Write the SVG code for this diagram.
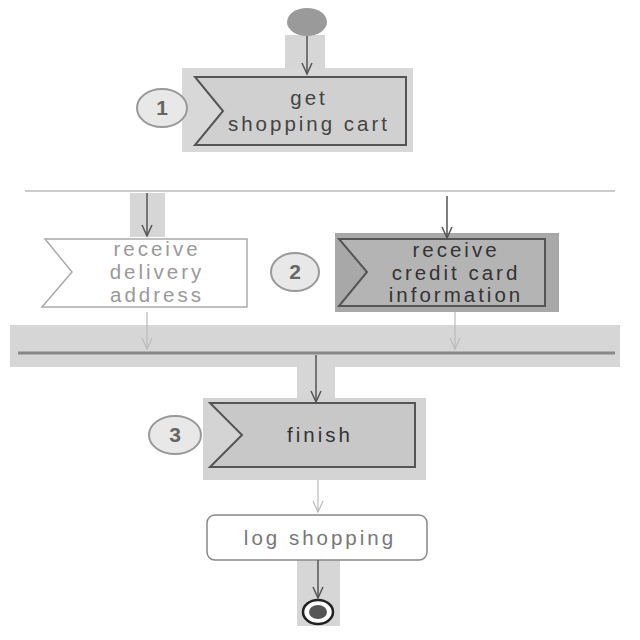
<svg xmlns="http://www.w3.org/2000/svg" width="640" height="640" viewBox="0 0 640 640">
<style>
.hl{fill:#d6d6d6}
.box{stroke:#555;stroke-width:2}
.num{fill:#e8e8e8;stroke:#999;stroke-width:2}
.numt{font-family:"Liberation Sans",Arial,sans-serif;font-size:21px;fill:#666;text-anchor:middle;font-weight:bold}
.t{font-family:"Liberation Sans",Arial,sans-serif;font-size:20.5px;text-anchor:middle;letter-spacing:3px}
.edge{stroke:#555;stroke-width:1.5;fill:none}
.faint{stroke:#bbb;stroke-width:1.2;fill:none}
</style>
<defs>
<marker id="ah" markerWidth="14" markerHeight="12" refX="12" refY="6" orient="auto" markerUnits="userSpaceOnUse">
<path d="M1,1 L12,6 L1,11" fill="none" stroke="#555" stroke-width="1.5"/>
</marker>
<marker id="ahf" markerWidth="14" markerHeight="12" refX="12" refY="6" orient="auto" markerUnits="userSpaceOnUse">
<path d="M1,1 L12,6 L1,11" fill="none" stroke="#bbb" stroke-width="1.2"/>
</marker>
</defs>
<rect width="640" height="640" fill="#fff"/>

<g id="highlights">
<rect class="hl" x="285" y="35" width="40" height="38"/>
<rect class="hl" x="130" y="193" width="35" height="44"/>
<rect class="hl" x="10" y="325" width="610" height="42" fill="#dcdcdc"/>
<rect class="hl" x="297" y="358" width="38" height="45"/>
<rect class="hl" x="297" y="560" width="43" height="66"/>
</g>

<g id="start">
<ellipse cx="307" cy="22" rx="20" ry="14" fill="#9a9a9a"/>
</g>

<g id="node1">
<rect x="182" y="68" width="231" height="84" fill="#d8d8d8"/>
<path class="box" d="M195,77 H406 V145 H195 L223,111 Z" fill="#d0d0d0"/>
<text class="t" x="309" y="105" fill="#444">get</text>
<text class="t" x="309" y="131" fill="#444">shopping cart</text>
<ellipse class="num" cx="162" cy="108" rx="25" ry="19"/>
<text class="numt" x="162" y="115">1</text>
</g>

<g id="fork">
<line x1="25" y1="191" x2="615" y2="191" stroke="#ccc" stroke-width="2"/>
</g>

<g id="node-delivery">
<path d="M45,239 H247 V307 H42 L72,272 Z" fill="#fff" stroke="#aaa" stroke-width="1.5"/>
<text class="t" x="157" y="256" fill="#999">receive</text>
<text class="t" x="157" y="279" fill="#999">delivery</text>
<text class="t" x="157" y="302" fill="#999">address</text>
</g>

<g id="node2">
<ellipse class="num" cx="295" cy="272" rx="24" ry="19"/>
<text class="numt" x="295" y="279">2</text>
<rect x="335" y="233" width="224" height="79" fill="#a8a8a8"/>
<path class="box" d="M339,239 H545 V306 H339 L367,272 Z" fill="#b4b4b4"/>
<text class="t" x="456" y="257" fill="#333">receive</text>
<text class="t" x="456" y="280" fill="#333">credit card</text>
<text class="t" x="456" y="302" fill="#333">information</text>
</g>

<g id="join">
<line x1="18" y1="353" x2="615" y2="353" stroke="#888" stroke-width="3"/>
</g>

<g id="node3">
<rect x="203" y="398" width="223" height="82" fill="#d4d4d4"/>
<path class="box" d="M210,403 H415 V467 H210 L242,435 Z" fill="#c8c8c8"/>
<text class="t" x="320" y="442" fill="#333">finish</text>
<ellipse class="num" cx="175" cy="435" rx="26" ry="19"/>
<text class="numt" x="175" y="442">3</text>
</g>

<g id="node-log">
<rect x="207" y="515" width="220" height="45" rx="8" fill="#fff" stroke="#888" stroke-width="1.5"/>
<text class="t" x="320" y="545" fill="#777">log shopping</text>
</g>

<g id="end">
<ellipse cx="318" cy="612" rx="15" ry="12" fill="#fff" stroke="#222" stroke-width="2.5"/>
<ellipse cx="318" cy="612" rx="9" ry="7" fill="#555"/>
</g>

<g id="connectors">
<line class="edge" x1="307" y1="36" x2="307" y2="74" marker-end="url(#ah)"/>
<line class="edge" x1="147" y1="193" x2="147" y2="236" marker-end="url(#ah)"/>
<line class="edge" x1="447" y1="196" x2="447" y2="238" marker-end="url(#ah)"/>
<line class="faint" x1="147" y1="312" x2="147" y2="349" marker-end="url(#ahf)"/>
<line class="faint" x1="455" y1="312" x2="455" y2="349" marker-end="url(#ahf)"/>
<line class="edge" x1="316" y1="355" x2="316" y2="402" marker-end="url(#ah)"/>
<line class="faint" x1="318" y1="480" x2="318" y2="512" marker-end="url(#ahf)"/>
<line class="edge" x1="318" y1="560" x2="318" y2="598" marker-end="url(#ah)"/>
</g>
</svg>
